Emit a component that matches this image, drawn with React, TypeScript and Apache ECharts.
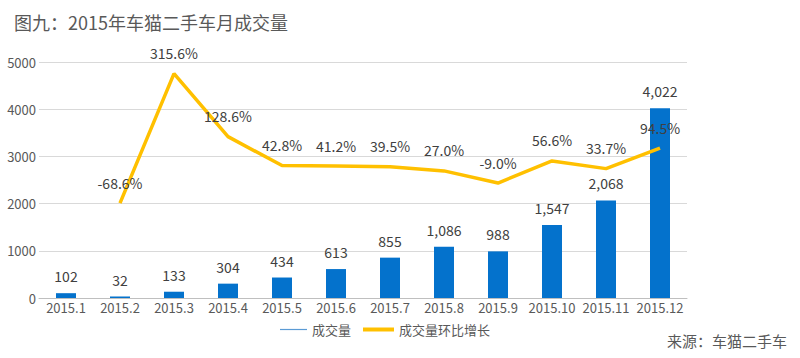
import React, { useEffect, useRef } from "react";
import * as echarts from "echarts";

const months = ["2015.1", "2015.2", "2015.3", "2015.4", "2015.5", "2015.6", "2015.7", "2015.8", "2015.9", "2015.10", "2015.11", "2015.12"];
const volume = [102, 32, 133, 304, 434, 613, 855, 1086, 988, 1547, 2068, 4022];
const growth: (number | null)[] = [null, -68.6, 315.6, 128.6, 42.8, 41.2, 39.5, 27.0, -9.0, 56.6, 33.7, 94.5];
const yTicks = { min: 0, max: 5000, interval: 1000 };

const FONT = "'Noto Sans CJK SC', 'Noto Sans', sans-serif";

export default function App() {
  const ref = useRef<HTMLDivElement>(null);
  useEffect(() => {
    if (!ref.current) return;
    const chart = echarts.init(ref.current, null, { renderer: "svg" });
    chart.setOption({
      animation: false,
      backgroundColor: "#ffffff",
      textStyle: { fontFamily: FONT },
      title: [
        {
          text: "图九：2015年车猫二手车月成交量",
          left: 14,
          top: 13,
          padding: 0,
          textStyle: { fontSize: 18, fontWeight: "normal", color: "#595959", fontFamily: FONT },
        },
        {
          text: "来源：车猫二手车",
          right: 13,
          top: 333,
          padding: 0,
          textStyle: { fontSize: 15, fontWeight: "normal", color: "#595959", fontFamily: FONT },
        },
      ],
      legend: [
        {
          data: [{ name: "成交量", itemStyle: { color: "#5B9BD5" } }],
          left: 280,
          top: 323,
          padding: 0,
          icon: "rect",
          itemWidth: 27,
          itemHeight: 1.2,
          textStyle: { fontSize: 13, color: "#595959", fontFamily: FONT },
        },
        {
          data: [{ name: "成交量环比增长", itemStyle: { color: "#FFC000", opacity: 1 } }],
          left: 363,
          top: 323,
          padding: 0,
          icon: "rect",
          itemWidth: 31,
          itemHeight: 4,
          textStyle: { fontSize: 13, color: "#595959", fontFamily: FONT },
        },
      ],
      grid: { left: 39, right: 113, top: 62, bottom: 60, containLabel: false },
      xAxis: {
        type: "category",
        data: months,
        axisLine: { show: true, lineStyle: { color: "#bfbfbf", width: 1 } },
        axisTick: { show: false },
        axisLabel: { color: "#595959", fontSize: 13, margin: 3, interval: 0, fontFamily: FONT },
      },
      yAxis: [
        {
          type: "value",
          min: yTicks.min,
          max: yTicks.max,
          interval: yTicks.interval,
          axisLine: { show: false },
          axisTick: { show: false },
          axisLabel: { color: "#595959", fontSize: 13, margin: 3, fontFamily: FONT, formatter: (v: number) => String(v) },
          splitLine: { lineStyle: { color: "#d9d9d9", width: 1 } },
        },
        {
          type: "value",
          min: -350,
          max: 350,
          show: false,
          splitLine: { show: false },
        },
      ],
      series: [
        {
          name: "成交量",
          type: "bar",
          data: volume,
          barWidth: 20,
          itemStyle: { color: "#0472CC" },
          label: {
            show: true,
            position: "top",
            distance: 10,
            color: "#404040",
            fontSize: 14,
            fontFamily: FONT,
            formatter: (p: any) => Number(p.value).toLocaleString("en-US"),
          },
          z: 2,
        },
        {
          name: "成交量环比增长",
          type: "line",
          yAxisIndex: 1,
          data: growth,
          symbol: "circle",
          symbolSize: 1,
          showSymbol: true,
          lineStyle: { color: "#FFC000", width: 3.5 },
          itemStyle: { color: "rgba(255,192,0,0)", borderWidth: 0 },
          label: {
            show: true,
            position: "top",
            distance: 13,
            color: "#404040",
            fontSize: 14,
            fontFamily: FONT,
            formatter: (p: any) => Number(p.value).toFixed(1) + "%",
          },
          z: 3,
        },
      ],
    });
    return () => chart.dispose();
  }, []);
  return <div ref={ref} style={{ position: "fixed", left: 0, top: 0, width: 800, height: 358 }} />;
}
